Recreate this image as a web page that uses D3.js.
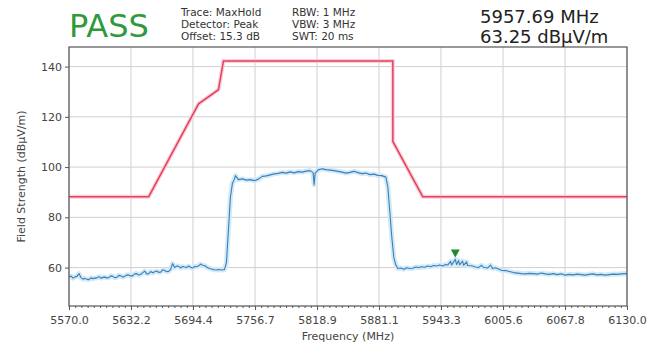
<!DOCTYPE html>
<html><head><meta charset="utf-8">
<script src="https://cdn.jsdelivr.net/npm/d3@7"></script>
<style>body{margin:0;background:#fff}svg{display:block;font-family:"DejaVu Sans",sans-serif}</style>
</head><body><svg id="c" width="650" height="345"></svg>
<script>
const traceFreq = [5570,5572,5574,5576,5578,5580,5582,5584,5586,5588,5590,5592,5594,5596,5598,5600,5602,5604,5606,5608,5610,5612,5614,5616,5618,5620,5622,5624,5626,5628,5630,5632,5634,5636,5638,5640,5642,5644,5646,5648,5650,5652,5654,5656,5658,5660,5662,5664,5666,5668,5670,5672,5674,5676,5678,5680,5682,5684,5686,5688,5690,5692,5694,5696,5698,5700,5702,5704,5706,5708,5710,5712,5714,5716,5718,5720,5722,5724,5726,5728,5730,5732,5734,5736,5737,5740,5744,5748,5752,5756,5760,5764,5768,5772,5776,5780,5784,5788,5792,5796,5800,5804,5808,5812,5815,5816,5817,5820,5824,5828,5832,5836,5840,5844,5848,5852,5856,5860,5864,5868,5872,5876,5880,5884,5888,5890,5892,5894,5896,5898,5900,5903,5906,5909,5912,5915,5918,5921,5924,5927,5930,5933,5936,5939,5942,5945,5948,5950,5953,5954,5957.69,5959,5961,5962,5965,5966,5969,5970,5974,5978,5981,5984,5986,5990,5993,5995,5998,6001,6004,6008,6012,6016,6020,6024,6028,6032,6036,6040,6044,6048,6052,6056,6060,6064,6068,6072,6076,6080,6084,6088,6092,6096,6100,6104,6108,6112,6116,6120,6124,6130];
const traceLevel = [56.2,56.6,55.8,56.3,56.5,57.6,56.0,55.4,55.7,55.3,55.2,55.9,55.6,55.8,55.9,56.4,55.8,56.1,56.2,55.9,56.0,56.7,56.5,56.0,56.1,56.9,56.7,56.2,56.5,57.1,57.0,56.6,56.8,57.5,57.6,57.0,57.3,58.0,58.6,57.5,57.6,58.4,57.9,58.3,58.6,58.1,58.2,59.1,58.8,58.4,58.5,59.3,61.6,60.0,60.6,60.5,59.9,60.4,60.2,60.0,60.6,60.1,59.8,60.4,60.3,60.7,61.4,60.9,60.8,60.2,59.8,59.5,59.3,59.1,59.0,59.2,59.1,59.0,59.2,62,75,88,93.5,95.2,96.6,95.0,95.3,94.8,95.0,94.6,95.2,96.3,96.5,96.9,97.3,97.5,97.9,97.6,98.1,97.7,98.2,98.0,98.4,98.6,97.8,93.0,97.5,98.9,99.3,99.0,98.8,98.6,98.3,98.0,97.6,97.9,98.3,97.8,97.4,97.6,97.0,97.2,96.7,96.6,96.0,92,82,72,64,61,59.6,59.8,59.3,59.9,59.6,59.7,60.2,60.0,60.3,60.1,60.6,60.3,60.8,60.6,61.0,60.6,61.2,61.0,62.5,61.0,63.25,61.2,62.8,61.1,62.6,60.9,62.3,60.8,60.7,60.2,60.0,60.9,60.1,59.8,61.0,59.6,59.9,59.4,58.9,58.8,58.4,58.0,57.8,57.6,57.5,57.7,57.6,57.4,57.8,57.5,57.3,57.6,57.2,57.5,57.0,57.3,57.1,57.4,57.2,57.0,57.3,57.5,57.1,57.3,57.0,57.2,57.4,57.3,57.5,57.6];
const limitFreq = [5570,5650,5700,5720,5725,5895,5895,5925,6130];
const limitLevel = [88.2,88.2,125.2,130.8,142.2,142.2,110.2,88.2,88.2];
const xTicks = [5570.0,5632.2,5694.4,5756.7,5818.9,5881.1,5943.3,6005.6,6067.8,6130.0];
const yTicks = [60,80,100,120,140];
const markerFreq = 5957.69, markerLevel = 63.25;
const infoCol1 = ["Trace: MaxHold","Detector: Peak","Offset: 15.3 dB"];
const infoCol2 = ["RBW: 1 MHz","VBW: 3 MHz","SWT: 20 ms"];
const verdict = "PASS";
const markerText = ["5957.69 MHz","63.25 dBµV/m"];

const svg = d3.select("#c");
const L=69,R=627,T=47,B=306;
const x = d3.scaleLinear().domain([5570,6130]).range([L,R]);
const y = d3.scaleLinear().domain([44.7,147.8]).range([B,T]);

svg.append("g").selectAll("line").data(xTicks).join("line")
  .attr("x1",d=>x(d)).attr("x2",d=>x(d)).attr("y1",T).attr("y2",B)
  .attr("stroke","#d0d0d0").attr("stroke-width",1);
svg.append("g").selectAll("line").data(yTicks).join("line")
  .attr("x1",L).attr("x2",R).attr("y1",d=>y(d)).attr("y2",d=>y(d))
  .attr("stroke","#d0d0d0").attr("stroke-width",1);

const xMinor = d3.range(0,91).map(i=>5570+i*560/90);
svg.append("g").attr("transform",`translate(0,${B})`)
  .call(d3.axisBottom(x).tickValues(xMinor).tickSize(2).tickFormat(""))
  .call(g=>{g.select(".domain").remove();g.selectAll("line").attr("stroke","#555");});
const gx = svg.append("g").attr("transform",`translate(0,${B})`)
  .call(d3.axisBottom(x).tickValues(xTicks).tickSize(4).tickFormat(d3.format(".1f")));
const gy = svg.append("g").attr("transform",`translate(${L},0)`)
  .call(d3.axisLeft(y).tickValues(yTicks).tickSize(4));
[gx,gy].forEach(g=>{
  g.select(".domain").remove();
  g.selectAll("line").attr("stroke","#555");
  g.selectAll("text").attr("fill","#444").style("font-size","11px").style("font-family","DejaVu Sans");
});
gx.selectAll("text").attr("dy","1.0em");

const line = d3.line().x(d=>x(d[0])).y(d=>y(d[1]));
const tr = traceFreq.map((f,i)=>[f,traceLevel[i]]);
const lim = limitFreq.map((f,i)=>[f,limitLevel[i]]);
svg.append("path").datum(tr).attr("d",line).attr("fill","none").attr("stroke","#d3e9f7").attr("stroke-width",5).attr("stroke-linejoin","round");
svg.append("path").datum(lim).attr("d",line).attr("fill","none").attr("stroke","#f8d0d7").attr("stroke-width",4);
svg.append("path").datum(lim).attr("d",line).attr("fill","none").attr("stroke","#e8405e").attr("stroke-width",1.5);
svg.append("path").datum(tr).attr("d",line).attr("fill","none").attr("stroke","#3a80b8").attr("stroke-width",1.1).attr("stroke-linejoin","round");

const mx=x(markerFreq), my=y(markerLevel)-6;
svg.append("path").attr("d",`M${mx-4.5},${my-4}L${mx+4.5},${my-4}L${mx},${my+4}Z`).attr("fill","#1f8a2a");

svg.append("rect").attr("x",L).attr("y",T).attr("width",R-L).attr("height",B-T)
  .attr("fill","none").attr("stroke","#555").attr("stroke-width",1.2);

svg.append("text").attr("x",(L+R)/2).attr("y",340).attr("text-anchor","middle")
  .style("font-size","11px").attr("fill","#444").text("Frequency (MHz)");
svg.append("text").attr("transform",`translate(25,${(T+B)/2}) rotate(-90)`).attr("text-anchor","middle")
  .style("font-size","11px").attr("fill","#444").text("Field Strength (dBµV/m)");

svg.append("text").attr("x",69).attr("y",37).style("font-size","32px").attr("fill","#2e9a3c").text(verdict);
infoCol1.forEach((t,i)=>svg.append("text").attr("x",181).attr("y",16+i*12).style("font-size","10.5px").attr("fill","#333").text(t));
infoCol2.forEach((t,i)=>svg.append("text").attr("x",292).attr("y",16+i*12).style("font-size","10.5px").attr("fill","#333").text(t));
markerText.forEach((t,i)=>svg.append("text").attr("x",480).attr("y",23+i*20).style("font-size","18px").attr("fill","#222").text(t));
</script></body></html>
